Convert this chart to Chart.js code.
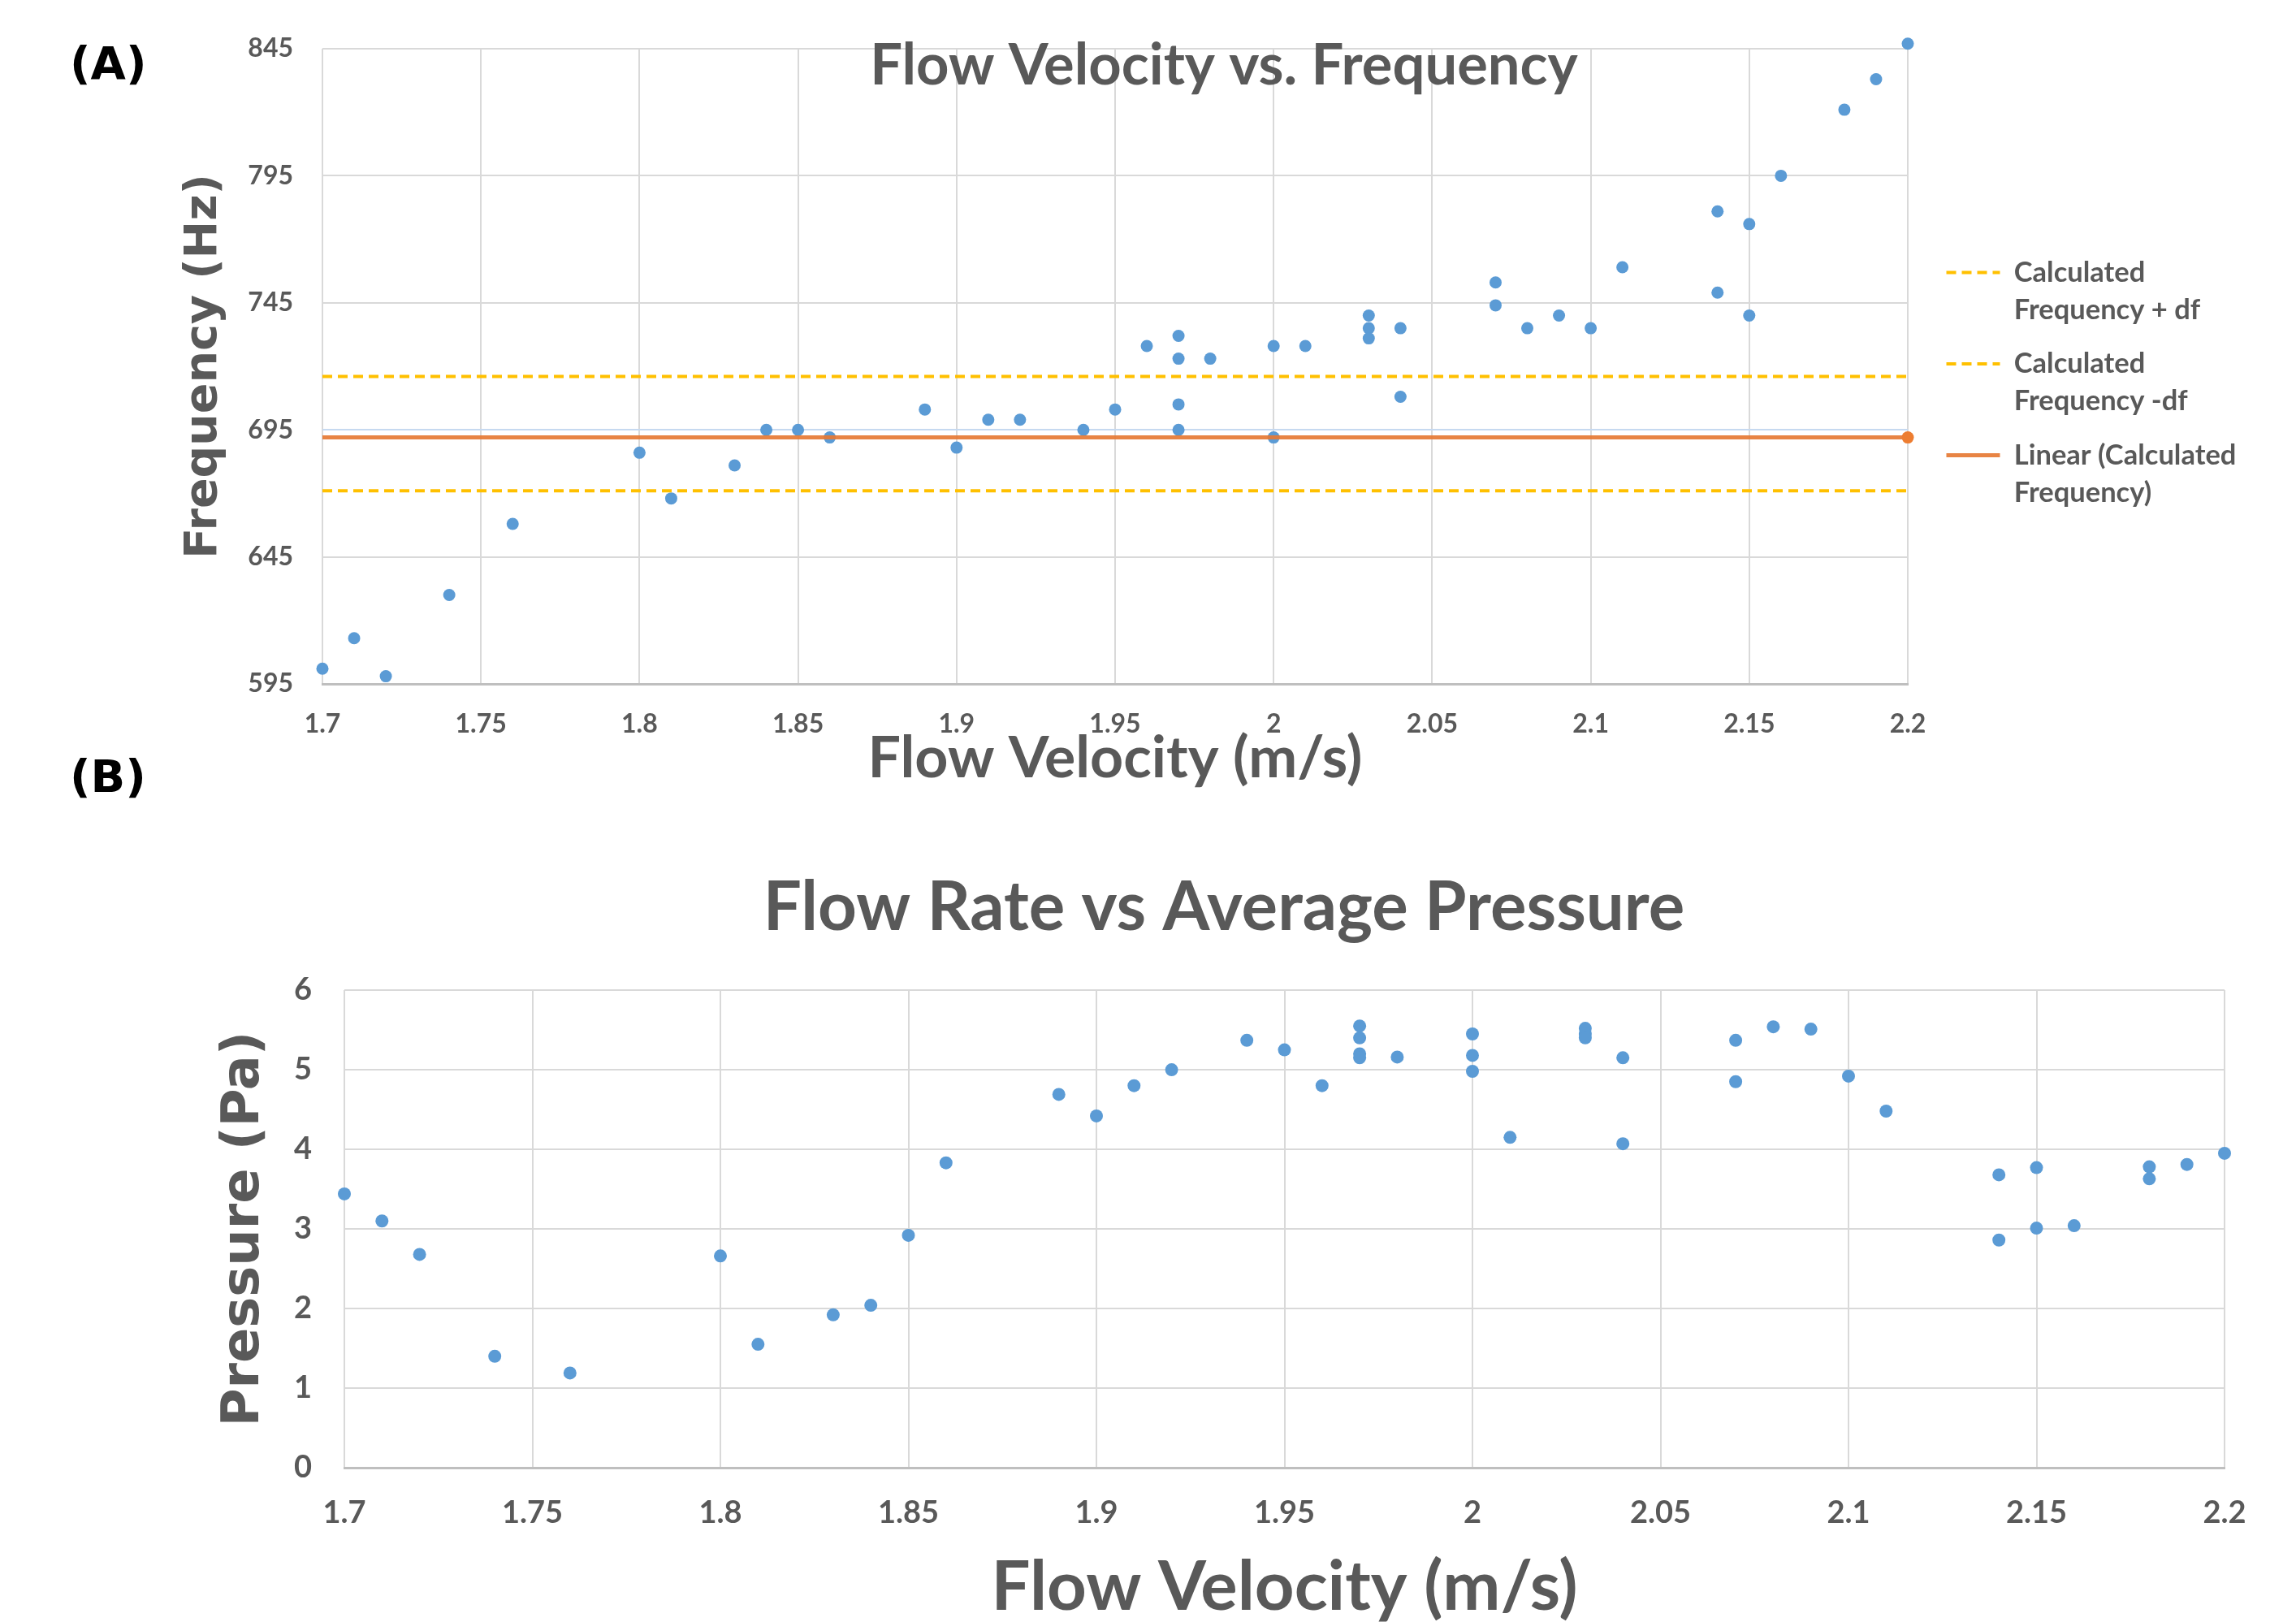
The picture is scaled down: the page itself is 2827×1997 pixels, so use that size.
<!DOCTYPE html>
<html>
<head>
<meta charset="utf-8">
<script src="https://cdn.jsdelivr.net/npm/chart.js@4.4.1/dist/chart.umd.min.js"></script>
<style>
html,body{margin:0;padding:0;background:#fff;}
body{width:2827px;height:1997px;position:relative;overflow:hidden;}
.panel{position:absolute;font-family:"DejaVu Sans";font-weight:bold;color:#000;font-size:56px;line-height:1;}
#wrapA{position:absolute;left:187px;top:0;width:2640px;height:980px;}
#wrapB{position:absolute;left:187px;top:980px;width:2640px;height:1017px;}
canvas{display:block;}
</style>
</head>
<body>
<div class="panel" style="left:86px;top:50px;">(A)</div>
<div class="panel" style="left:86px;top:928px;">(B)</div>
<div id="wrapA"><canvas id="chartA" width="2640" height="980"></canvas></div>
<div id="wrapB"><canvas id="chartB" width="2640" height="1017"></canvas></div>
<script>
// ---------- data ----------
const xTickLabels = ['1.7','1.75','1.8','1.85','1.9','1.95','2','2.05','2.1','2.15','2.2'];
const freqTickLabels = ['595','645','695','745','795','845'];
const pressTickLabels = ['0','1','2','3','4','5','6'];

const velocityA = [1.70,1.71,1.72,1.74,1.76,1.80,1.81,1.83,1.84,1.85,1.86,1.89,1.90,1.91,1.92,1.94,1.95,1.96,1.97,1.97,1.97,1.97,1.98,2.00,2.00,2.01,2.03,2.03,2.03,2.04,2.04,2.07,2.07,2.08,2.09,2.10,2.11,2.14,2.14,2.15,2.15,2.16,2.18,2.19,2.20];
const frequencyA = [601,613,598,630,658,686,668,681,695,695,692,703,688,699,699,695,703,728,732,723,705,695,723,728,692,728,740,735,731,735,708,753,744,735,740,735,759,781,749,776,740,795,821,833,847];

const calcLineX = [1.7, 2.2];
const calcFreq = [692, 692];
const calcFreqPlusDf = [716, 716];
const calcFreqMinusDf = [671, 671];

const velocityB = [1.70,1.71,1.72,1.74,1.76,1.80,1.81,1.83,1.84,1.85,1.86,1.89,1.90,1.91,1.92,1.94,1.95,1.96,1.97,1.97,1.97,1.97,1.98,2.00,2.00,2.00,2.01,2.03,2.03,2.03,2.04,2.04,2.07,2.07,2.08,2.09,2.10,2.11,2.14,2.14,2.15,2.15,2.16,2.18,2.18,2.19,2.20];
const pressureB = [3.44,3.10,2.68,1.40,1.19,2.66,1.55,1.92,2.04,2.92,3.83,4.69,4.42,4.80,5.00,5.37,5.25,4.80,5.55,5.40,5.20,5.15,5.16,5.45,5.18,4.98,4.15,5.52,5.45,5.40,5.15,4.07,5.37,4.85,5.54,5.51,4.92,4.48,3.68,2.86,3.77,3.01,3.04,3.78,3.63,3.81,3.95];

// ---------- helpers ----------
const pts = (xs, ys) => xs.map((x, i) => ({x: x, y: ys[i]}));
const num = a => a.map(parseFloat);
const xT = num(xTickLabels), fT = num(freqTickLabels), pT = num(pressTickLabels);
const GREY = '#595959';
const BLUE = '#5B9BD5';
const lato = (size, lh) => ({family: 'Lato', weight: 'bold', size: size, lineHeight: lh || 1.2});
const dejavu = (size) => ({family: 'DejaVu Sans', weight: 'bold', size: size, lineHeight: 1.2});

const legendPlacement = {
  id: 'legendPlacement',
  beforeLayout(chart, args, opts) {
    const lg = chart.legend;
    if (lg && !lg._fixedFit && opts && opts.width) {
      const orig = lg.fit;
      lg.fit = function() { orig.call(this); this.width = opts.width; };
      lg._fixedFit = true;
    }
  },
  afterLayout(chart, args, opts) {
    const lg = chart.legend;
    if (lg && opts && opts.width) {
      lg.left += opts.dx; lg.right += opts.dx;
      lg.top += opts.dy; lg.bottom += opts.dy;
    }
  }
};

Chart.defaults.animation = false;

// ---------- chart A ----------
new Chart(document.getElementById('chartA'), {
  type: 'scatter',
  data: {
    datasets: [
      {label: 'Frequency', data: pts(velocityA, frequencyA), backgroundColor: BLUE, borderColor: BLUE,
       pointRadius: 7.5, pointBorderWidth: 0, showLine: false, order: 3, clip: false},
      {label: 'Calculated\nFrequency + df', data: pts(calcLineX, calcFreqPlusDf), showLine: true,
       borderColor: '#FFC000', backgroundColor: '#FFC000', borderWidth: 4, borderDash: [12, 7], pointRadius: 0, order: 2},
      {label: 'Calculated\nFrequency -df', data: pts(calcLineX, calcFreqMinusDf), showLine: true,
       borderColor: '#FFC000', backgroundColor: '#FFC000', borderWidth: 4, borderDash: [12, 7], pointRadius: 0, order: 2},
      {label: 'Linear (Calculated\nFrequency)', data: pts(calcLineX, calcFreq), showLine: true,
       borderColor: 'rgba(230,122,52,0.92)', backgroundColor: '#ED7D31', borderWidth: 5, pointRadius: [0, 7.5],
       pointBorderWidth: 0, order: 1, clip: false}
    ]
  },
  options: {
    responsive: false, devicePixelRatio: 1, animation: false,
    layout: {padding: {left: 0, right: 0, top: 0, bottom: 0}},
    plugins: {
      tooltip: {enabled: false},
      title: {display: true, text: 'Flow Velocity vs. Frequency', color: GREY, font: lato(70.5),
              padding: {top: 38.7, bottom: -63.3}},
      legend: {
        display: true, position: 'right', align: 'center',
        labels: {
          usePointStyle: true, pointStyle: 'line', pointStyleWidth: 66,
          color: GREY, font: lato(34.5, 1.34), padding: 20,
          filter: (item) => item.datasetIndex !== 0,
          sort: (a, b) => a.datasetIndex - b.datasetIndex,
          generateLabels: (chart) => Chart.defaults.plugins.legend.labels.generateLabels(chart)
              .map(it => {
                const ds = chart.data.datasets[it.datasetIndex];
                it.text = String(it.text).split('\n');
                it.strokeStyle = ds.borderColor;
                it.lineWidth = ds.borderWidth;
                it.lineDash = ds.borderDash || [];
                return it;
              })
        }
      },
      legendPlacement: {width: 478, dx: 27.5, dy: -13}
    },
    scales: {
      x: {
        type: 'linear', position: 'bottom', min: xT[0], max: xT[xT.length - 1],
        ticks: {stepSize: xT[1] - xT[0], autoSkip: false, maxRotation: 0, padding: 30, color: GREY,
                font: lato(32), callback: (v, i) => xTickLabels[i]},
        grid: {color: '#D9D9D9', lineWidth: 2, drawTicks: false},
        border: {display: true, color: '#BFBFBF', width: 3},
        title: {display: true, text: 'Flow Velocity (m/s)', color: GREY, font: lato(71.7),
                padding: {top: 0, bottom: 3}},
        afterFit: (s) => { s.height = 138; }
      },
      y: {
        type: 'linear', min: fT[0], max: fT[fT.length - 1],
        ticks: {stepSize: fT[1] - fT[0], padding: 36, color: GREY, font: lato(32),
                callback: (v, i) => freqTickLabels[i]},
        grid: {color: (c) => (c.tick && c.tick.value === 695) ? '#C6D9F0' : '#D9D9D9', lineWidth: 2, drawTicks: false},
        border: {display: false},
        title: {display: true, text: 'Frequency (Hz)', color: GREY, font: dejavu(55.5),
                padding: {top: 31.7, bottom: 0}},
        afterFit: (s) => { s.width = 210; }
      }
    }
  },
  plugins: [legendPlacement]
});

// ---------- chart B ----------
new Chart(document.getElementById('chartB'), {
  type: 'scatter',
  data: {
    datasets: [
      {label: 'Pressure', data: pts(velocityB, pressureB), backgroundColor: BLUE, borderColor: BLUE,
       pointRadius: 8, pointBorderWidth: 0, showLine: false, clip: false}
    ]
  },
  options: {
    responsive: false, devicePixelRatio: 1, animation: false,
    layout: {padding: {left: 0, right: 0, top: 0, bottom: 0}},
    plugins: {
      tooltip: {enabled: false},
      legend: {display: false},
      title: {display: true, text: 'Flow Rate vs Average Pressure', color: GREY, font: lato(83.4),
              padding: {top: 88, bottom: 51}}
    },
    scales: {
      x: {
        type: 'linear', position: 'bottom', min: xT[0], max: xT[xT.length - 1],
        ticks: {stepSize: xT[1] - xT[0], autoSkip: false, maxRotation: 0, padding: 33, color: GREY,
                font: lato(38), callback: (v, i) => xTickLabels[i]},
        grid: {color: '#D9D9D9', lineWidth: 2, drawTicks: false},
        border: {display: true, color: '#BFBFBF', width: 3},
        title: {display: true, text: 'Flow Velocity (m/s)', color: GREY, font: lato(85, 1.0),
                padding: {top: 0, bottom: 0}},
        afterFit: (s) => { s.height = 190; }
      },
      y: {
        type: 'linear', min: pT[0], max: pT[pT.length - 1],
        ticks: {stepSize: pT[1] - pT[0], padding: 40, color: GREY, font: lato(38),
                callback: (v, i) => pressTickLabels[i]},
        grid: {color: '#D9D9D9', lineWidth: 2, drawTicks: false},
        border: {display: false},
        title: {display: true, text: 'Pressure (Pa)', color: GREY, font: dejavu(63.8),
                padding: {top: 75.7, bottom: 0}},
        afterFit: (s) => { s.width = 237; }
      },
      yRight: {
        type: 'linear', position: 'right', display: true,
        ticks: {display: false}, grid: {display: false}, border: {display: false},
        title: {display: false},
        afterFit: (s) => { s.width = 88; }
      }
    }
  }
});
</script>
</body>
</html>
